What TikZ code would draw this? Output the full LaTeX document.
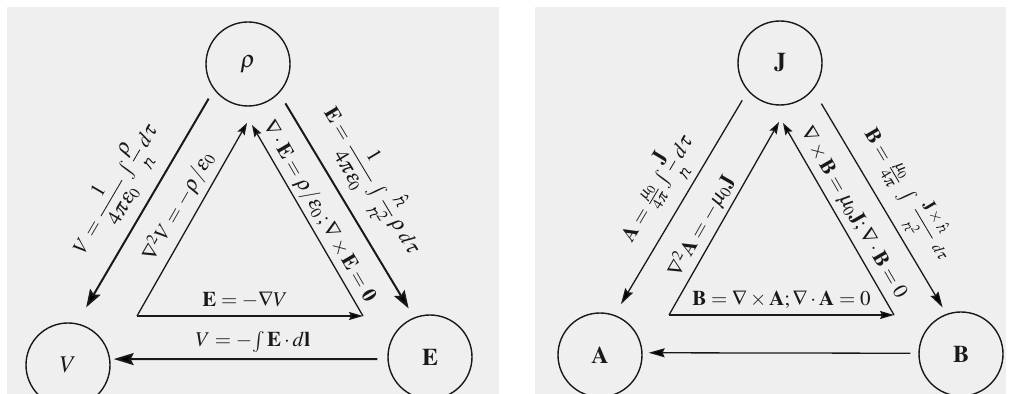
\documentclass[tikz,border=0pt]{standalone}
\usepackage{amsmath}
\usepackage{mathptmx}
\usetikzlibrary{arrows.meta}
\definecolor{paper}{RGB}{239,239,239}
\definecolor{ink}{RGB}{25,25,25}
\newcommand{\rn}{\mathord{\text{\tikz[baseline=0pt,x=1ex,y=1ex]{\draw[-,solid,shorten <=0pt,shorten >=0pt,line width=0.5pt,line cap=round,line join=round,draw=ink]
 (0,0) .. controls (0.2,0.4) and (0.3,0.8) .. (0.32,1.0)
 .. controls (0.34,1.12) and (0.12,1.05) .. (0.2,0.88)
 .. controls (0.3,0.75) and (0.55,0.95) .. (0.75,0.95)
 .. controls (0.95,0.95) and (0.85,0.6) .. (0.72,0.35)
 .. controls (0.62,0.15) and (0.7,-0.02) .. (0.95,0.06);}}}}
\tikzset{
  ring/.style={circle, draw=ink, line width=0.7pt, minimum size=42pt, inner sep=0pt, text=ink, font=\large},
  heavy/.style={draw=ink, line width=1pt, -{Stealth[length=9pt,width=6pt,inset=1.5pt]}},
  heavyB/.style={draw=ink, line width=1pt, -{Stealth[length=10pt,width=6pt,inset=1.5pt]}},
  innerL/.style={draw=ink, line width=0.65pt, -{Stealth[length=6pt,width=4pt,inset=1pt]}},
  innerB/.style={draw=ink, line width=0.65pt, -{Stealth[length=7pt,width=4pt,inset=1pt]}},
  thinA/.style={draw=ink, line width=0.65pt, -{Stealth[length=8pt,width=4.5pt,inset=1pt]}},
  lbl/.style={sloped, text=ink, font=\fontsize{10.5}{12}\selectfont},
  hlbl/.style={text=ink, font=\fontsize{10.5}{12}\selectfont},
}
\begin{document}
\begin{tikzpicture}[x=0.5pt,y=-0.5pt]
\useasboundingbox (0,0) rectangle (1016,394);
\fill[white] (0,0) rectangle (1016,394);
\fill[paper] (7,7) rectangle (499,394);
\fill[paper] (535,7) rectangle (1006,394);

% left panel
\node[ring] (rho) at (248,64) {$\rho$};
\node[ring] (V) at (68,365) {$V$};
\node[ring] (E) at (430,357) {$\mathbf{E}$};
\coordinate (p1) at (137,316);
\coordinate (p2) at (363,316);
\coordinate (p3) at (247,123);
\coordinate (p4) at (252,125);

\draw[heavy, shorten <=5.2pt, shorten >=9.2pt] (rho.217) -- (V.78)
  node[lbl, pos=0.5, above, inner sep=5pt] {$V=\dfrac{1}{4\pi\epsilon_0}\int\dfrac{\rho}{\rn}\,d\tau$};
\draw[heavy, shorten <=6pt, shorten >=5.2pt] (rho.317) -- (E.112)
  node[lbl, pos=0.47, above, inner sep=5pt] {$\mathbf{E}=\dfrac{1}{4\pi\epsilon_0}\int\dfrac{\hat{\rn}}{\rn^2}\,\rho\,d\tau$};
\draw[heavyB, shorten <=5pt, shorten >=1.7pt] (E.183) -- (V.8)
  node[hlbl, pos=0.485, above, inner sep=3pt] {$V=-\!\int\mathbf{E}\cdot d\mathbf{l}$};
\draw[innerL] (p1) -- (p3)
  node[lbl, pos=0.52, above, inner sep=3pt] {$\nabla^2V=-\rho/\epsilon_0$};
\draw[innerL] (p2) -- (p4)
  node[lbl, pos=0.51, above, inner sep=1.5pt] {$\nabla\cdot\mathbf{E}=\rho/\epsilon_0\,;\nabla\times\mathbf{E}=\mathbf{0}$};
\draw[innerB] (p1) -- (p2)
  node[hlbl, pos=0.478, above, inner sep=3.5pt] {$\mathbf{E}=-\nabla V$};

% right panel
\node[ring] (J) at (780,63) {$\mathbf{J}$};
\node[ring] (A) at (600,355) {$\mathbf{A}$};
\node[ring] (B) at (961,354) {$\mathbf{B}$};
\coordinate (q1) at (669,315);
\coordinate (q2) at (894,315);
\coordinate (q3) at (779,122);
\coordinate (q4) at (783,123);

\draw[thinA, shorten <=5.4pt, shorten >=6.2pt] (J.221) -- (A.70)
  node[lbl, pos=0.5, above, inner sep=3pt] {$\mathbf{A}=\frac{\mu_0}{4\pi}\int\dfrac{\mathbf{J}}{\rn}\,d\tau$};
\draw[thinA, shorten <=8pt, shorten >=3.7pt] (J.321) -- (B.110)
  node[lbl, pos=0.53, above, inner sep=3pt] {$\mathbf{B}=\frac{\mu_0}{4\pi}\;\int\;\dfrac{\scalebox{0.8}{$\mathbf{J}\times\hat{\rn}$}}{\scalebox{0.8}{$\rn^2$}}\;{\scriptstyle d\tau}$};
\draw[thinA, shorten <=4pt, shorten >=3pt] (B.179) -- (A.3);
\draw[innerL] (q1) -- (q3)
  node[lbl, pos=0.42, above, inner sep=2pt] {$\nabla^2\mathbf{A}=-\mu_0\mathbf{J}$};
\draw[innerL] (q2) -- (q4)
  node[lbl, pos=0.49, above, inner sep=2.5pt] {$\nabla\times\mathbf{B}=\mu_0\mathbf{J};\nabla\cdot\mathbf{B}=0$};
\draw[innerB] (q1) -- (q2)
  node[hlbl, pos=0.5, above, inner sep=3pt] {$\mathbf{B}=\nabla\times\mathbf{A};\nabla\cdot\mathbf{A}=0$};
\end{tikzpicture}
\end{document}
